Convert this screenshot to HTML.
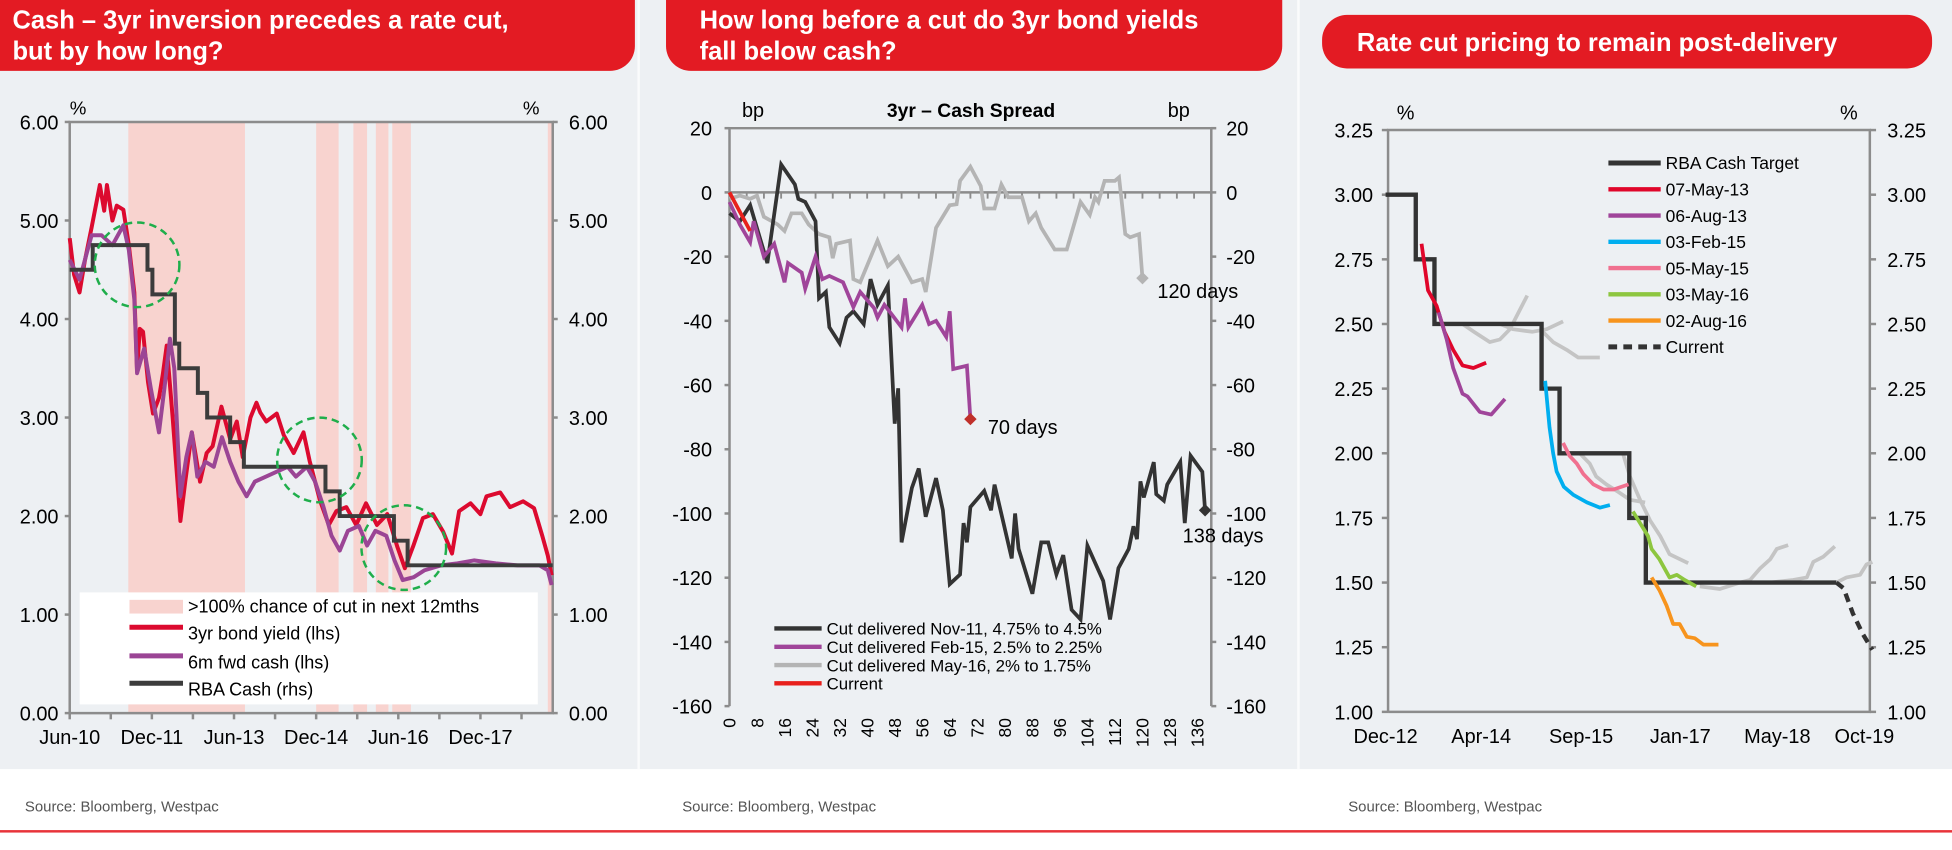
<!DOCTYPE html>
<html><head><meta charset="utf-8"><style>
html,body{margin:0;padding:0;background:#fff;}
svg{display:block;font-family:"Liberation Sans",Arial,sans-serif;}
</style></head><body>
<svg id="root" xmlns="http://www.w3.org/2000/svg" width="1952" height="850" viewBox="0 0 1568 683" preserveAspectRatio="none">
<rect x="0" y="0" width="1568" height="618" fill="#edf0f3"/>
<rect x="512" y="0" width="2" height="618" fill="#fafbfc"/>
<rect x="1042" y="0" width="2" height="618" fill="#fafbfc"/>
<rect x="0" y="667" width="1568" height="2" fill="#e8343a"/>
<g>
<rect x="-30" y="-30" width="540" height="87" rx="20" fill="#e31b23"/>
<text x="10" y="23" fill="#fff" font-size="20.5" font-weight="bold">Cash – 3yr inversion precedes a rate cut,</text>
<text x="10" y="48" fill="#fff" font-size="20.5" font-weight="bold">but by how long?</text>
</g>
<g>
<rect x="535" y="-30" width="495" height="87" rx="20" fill="#e31b23"/>
<text x="562" y="23" fill="#fff" font-size="20.5" font-weight="bold">How long before a cut do 3yr bond yields</text>
<text x="562" y="48" fill="#fff" font-size="20.5" font-weight="bold">fall below cash?</text>
</g>
<g>
<rect x="1062" y="12" width="490" height="43" rx="20" fill="#e31b23"/>
<text x="1090" y="41" fill="#fff" font-size="20.5" font-weight="bold">Rate cut pricing to remain post-delivery</text>
</g>
<text x="20" y="652" font-size="12" fill="#555">Source: Bloomberg, Westpac</text>
<text x="548" y="652" font-size="12" fill="#555">Source: Bloomberg, Westpac</text>
<text x="1083" y="652" font-size="12" fill="#555">Source: Bloomberg, Westpac</text>

<g id="c1"></g>
<g id="c2"></g>
<g id="c3"></g>
</svg>
<script>
// ---------- Chart 1 data ----------
const c1Bands = [[2011.49,2013.62],[2014.92,2015.33],[2015.6,2015.85],[2016.01,2016.24],[2016.31,2016.65],[2019.15,2019.24]];
const c1Cash = [[2010.42,4.5],[2010.84,4.75],[2011.84,4.5],[2011.93,4.25],[2012.34,3.75],[2012.42,3.5],[2012.76,3.25],[2012.93,3.0],[2013.35,2.75],[2013.6,2.5],[2015.09,2.25],[2015.35,2.0],[2016.34,1.75],[2016.59,1.5],[2019.24,1.5]];
const c1Bond = [[2010.42,4.82],[2010.5,4.45],[2010.6,4.27],[2010.7,4.6],[2010.82,4.93],[2010.97,5.36],[2011.05,5.1],[2011.1,5.36],[2011.2,5.0],[2011.28,5.15],[2011.4,5.11],[2011.5,4.75],[2011.6,4.27],[2011.65,3.47],[2011.7,3.9],[2011.76,3.87],[2011.85,3.36],[2011.94,3.04],[2012.05,3.2],[2012.12,3.44],[2012.19,3.73],[2012.3,3.0],[2012.44,1.95],[2012.53,2.35],[2012.65,2.85],[2012.8,2.35],[2012.92,2.64],[2013.03,2.71],[2013.19,3.11],[2013.35,2.78],[2013.47,2.96],[2013.58,2.6],[2013.72,3.0],[2013.83,3.15],[2013.9,3.05],[2014.01,2.96],[2014.2,3.04],[2014.33,2.82],[2014.51,2.64],[2014.69,2.85],[2014.8,2.56],[2014.99,2.16],[2015.15,1.91],[2015.29,2.05],[2015.47,2.09],[2015.65,1.91],[2015.83,2.13],[2016.03,1.91],[2016.22,2.02],[2016.4,1.69],[2016.54,1.47],[2016.69,1.69],[2016.87,1.98],[2017.05,2.02],[2017.24,1.84],[2017.4,1.62],[2017.53,2.05],[2017.74,2.13],[2017.92,2.02],[2018.03,2.2],[2018.28,2.24],[2018.46,2.09],[2018.7,2.15],[2018.9,2.08],[2019.05,1.8],[2019.15,1.6],[2019.22,1.4]];
const c1Fwd = [[2010.42,4.6],[2010.6,4.4],[2010.82,4.85],[2011.0,4.85],[2011.2,4.75],[2011.4,4.95],[2011.5,4.7],[2011.6,4.2],[2011.65,3.45],[2011.78,3.7],[2011.9,3.3],[2012.05,2.85],[2012.15,3.3],[2012.25,3.8],[2012.33,3.5],[2012.44,2.2],[2012.55,2.6],[2012.65,2.85],[2012.75,2.4],[2012.9,2.55],[2013.05,2.5],[2013.2,2.8],[2013.35,2.55],[2013.5,2.35],[2013.65,2.2],[2013.8,2.35],[2014.0,2.4],[2014.2,2.45],[2014.4,2.5],[2014.55,2.4],[2014.75,2.5],[2014.9,2.35],[2015.05,2.1],[2015.2,1.8],[2015.35,1.65],[2015.5,1.85],[2015.7,1.9],[2015.85,1.7],[2016.0,1.85],[2016.2,1.8],[2016.35,1.55],[2016.5,1.35],[2016.7,1.38],[2016.9,1.45],[2017.2,1.5],[2017.5,1.52],[2017.8,1.55],[2018.2,1.52],[2018.6,1.5],[2019.0,1.5],[2019.15,1.45],[2019.22,1.3]];
const c1Circles = [[2011.65,4.55],[2014.98,2.57],[2016.52,1.68]];
const c1YTicks = [0,1,2,3,4,5,6];
const c1XLabels = ["Jun-10","Dec-11","Jun-13","Dec-14","Jun-16","Dec-17"];
const c1XLabelPos = [2010.42,2011.92,2013.42,2014.92,2016.42,2017.92];

// ---------- Chart 2 data ----------
const c2Nov11 = [[0,-6.5],[3,-9],[6,-4],[11,-22],[15,8.7],[19,2.5],[20,-2],[22,-3],[25,-9],[26,-33],[28,-31],[29,-42],[32,-47],[34,-39],[36,-37],[39,-41],[41,-27],[43,-35],[46,-29],[48,-72],[49,-61],[50,-109],[53,-92],[55,-86],[57,-101],[60,-89],[62,-99],[64,-122],[67,-119],[68,-103],[69,-109],[70,-98],[74,-93],[76,-99],[77,-91],[82,-114],[83,-100],[84,-111],[88,-125],[90.6,-109],[92.6,-109],[95,-119],[97,-113],[99.4,-130],[102,-133],[104,-110],[108.6,-121],[110.6,-133],[113,-117],[116,-111],[117.4,-104],[118.4,-108],[119.4,-90],[120.4,-95],[123.3,-84],[124,-94],[126.2,-96],[127.2,-91],[131,-84],[132.3,-103],[134,-82],[137.4,-87],[138.2,-99]];
const c2Feb15 = [[0,-3],[3,-10],[6,-15.5],[7,-9],[10,-20],[13,-16],[16,-28],[17,-22],[21,-25],[22,-30],[25,-20],[27,-27],[29,-26],[33,-28],[36,-35.7],[38,-31],[42,-36],[43,-39],[45,-35],[50,-42],[51,-33],[52,-42],[56,-35],[58,-41],[60,-40],[63,-45],[64,-37],[65,-55],[69,-54],[70,-70.6]];
const c2May16 = [[0,-2],[3,-1],[6,-2],[8,-1],[10,-7.6],[14,-10],[16,-12],[18,-6.5],[21,-6.5],[23,-10],[26,-13],[29,-14],[30,-20.5],[31,-16],[35,-15],[36,-27],[38,-28],[43,-15],[46,-23],[49,-20],[53,-28],[56,-27],[57,-31],[60,-11],[64,-4],[66,-3.7],[67,3.6],[70,8],[73,2],[74,-5],[77,-5],[79,2.5],[81,-1.5],[85,-1.5],[87,-9],[89,-6.5],[90.6,-11],[94.5,-17.8],[98,-17.8],[102,-3],[104.7,-7],[106.2,-1.5],[107.2,-3],[109,3.6],[112,3.6],[113.2,4.7],[115,-13],[116.4,-14],[119,-13],[120,-26.7]];
const c2Current = [[0,0],[2,-4],[6,-12]];
const c2YTicks = [20,0,-20,-40,-60,-80,-100,-120,-140,-160];
const c2XTicks = [0,8,16,24,32,40,48,56,64,72,80,88,96,104,112,120,128,136];
const c2Ends = [[70,-70.6,"70 days"],[120,-26.7,"120 days"],[138.2,-99,"138 days"]];

// ---------- Chart 3 data ----------
const c3Cash = [[2012.92,3.0],[2013.34,2.75],[2013.6,2.5],[2015.09,2.25],[2015.34,2.0],[2016.31,1.75],[2016.54,1.5],[2019.19,1.5]];
const c3Current = [[2019.19,1.5],[2019.29,1.478],[2019.42,1.38],[2019.56,1.3],[2019.69,1.24]];
const c3May13 = [[2013.42,2.81],[2013.51,2.63],[2013.63,2.57],[2013.74,2.47],[2013.86,2.40],[2013.99,2.34],[2014.14,2.33],[2014.32,2.35]];
const c3Aug13 = [[2013.66,2.545],[2013.77,2.44],[2013.86,2.33],[2013.99,2.23],[2014.06,2.22],[2014.23,2.16],[2014.39,2.15],[2014.58,2.21]];
const c3Feb15 = [[2015.14,2.28],[2015.2,2.1],[2015.25,2.0],[2015.3,1.93],[2015.4,1.87],[2015.53,1.84],[2015.72,1.81],[2015.9,1.79],[2016.04,1.8]];
const c3May15 = [[2015.39,2.04],[2015.48,1.99],[2015.58,1.96],[2015.67,1.92],[2015.81,1.88],[2015.95,1.86],[2016.09,1.86],[2016.3,1.88]];
const c3May16 = [[2016.36,1.775],[2016.46,1.73],[2016.57,1.68],[2016.62,1.63],[2016.73,1.59],[2016.87,1.52],[2016.97,1.53],[2017.08,1.51],[2017.24,1.485]];
const c3Aug16 = [[2016.62,1.52],[2016.73,1.47],[2016.83,1.41],[2016.92,1.34],[2017.01,1.34],[2017.11,1.29],[2017.22,1.285],[2017.34,1.26],[2017.55,1.26]];
const c3GreyA = [[2013.99,2.5],[2014.15,2.47],[2014.37,2.43],[2014.51,2.44],[2014.65,2.48],[2014.78,2.55],[2014.89,2.61]];
const c3GreyB = [[2014.51,2.5],[2014.69,2.48],[2014.96,2.47],[2015.16,2.48],[2015.39,2.51]];
const c3GreyC = [[2015.07,2.48],[2015.25,2.43],[2015.44,2.4],[2015.6,2.37],[2015.9,2.37]];
const c3GreyD = [[2015.62,2.0],[2015.76,1.96],[2015.85,1.91],[2015.99,1.88],[2016.16,1.85],[2016.32,1.82],[2016.53,1.81]];
const c3GreyE = [[2016.22,2.0],[2016.32,1.91],[2016.46,1.82],[2016.6,1.74],[2016.74,1.68],[2016.87,1.61],[2017.13,1.575]];
const c3GreyF = [[2017.29,1.485],[2017.57,1.475],[2017.85,1.5],[2017.99,1.51],[2018.13,1.555],[2018.27,1.59],[2018.36,1.63],[2018.52,1.645]];
const c3GreyG = [[2018.27,1.5],[2018.59,1.51],[2018.78,1.52],[2018.87,1.58],[2019.01,1.6],[2019.17,1.64]];
const c3GreyH = [[2019.19,1.5],[2019.33,1.52],[2019.52,1.53],[2019.61,1.57],[2019.69,1.58]];
const c3YTicks = [1.0,1.25,1.5,1.75,2.0,2.25,2.5,2.75,3.0,3.25];
const c3XLabels = ["Dec-12","Apr-14","Sep-15","Jan-17","May-18","Oct-19"];
const c3XLabelPos = [2012.92,2014.25,2015.64,2017.02,2018.37,2019.58];
const c3LegendLabels = ["RBA Cash Target","07-May-13","06-Aug-13","03-Feb-15","05-May-15","03-May-16","02-Aug-16","Current"];

const NS="http://www.w3.org/2000/svg";
function mk(tag, attrs, parent){const e=document.createElementNS(NS,tag);for(const k in attrs)e.setAttribute(k,attrs[k]);parent.appendChild(e);return e;}
function txt(s, attrs, parent){const e=mk('text',attrs,parent);e.textContent=s;return e;}
function pathOf(pts,x,y){return pts.map((p,i)=>(i?'L':'M')+x(p[0]).toFixed(1)+','+y(p[1]).toFixed(1)).join('');}
function stepOf(pts,x,y){let d='M'+x(pts[0][0])+','+y(pts[0][1]);for(let i=1;i<pts.length;i++){d+='H'+x(pts[i][0])+'V'+y(pts[i][1]);}return d;}

// ===== Chart 1 =====
(function(){
const g=document.getElementById('c1');
const L=56,R=444,T=98,B=573;
const x=t=>L+(t-2010.42)*(R-L)/(2019.24-2010.42);
const y=v=>B-v*(B-T)/6;
c1Bands.forEach(b=>{const r=mk('rect',{x:x(b[0]),y:T,width:x(b[1])-x(b[0]),height:B-T,fill:'#f8d3cf'},g);

});
const fr=mk('path',{d:`M${L},${B}V${T}H${R}V${B}H${L}`,fill:'none',stroke:'#8c8c8c','stroke-width':2},g);


c1YTicks.forEach(v=>{
const a=txt(v.toFixed(2),{x:47,y:y(v)+6,'font-size':16,'text-anchor':'end',fill:'#000'},g);


const b=txt(v.toFixed(2),{x:457,y:y(v)+6,'font-size':16,fill:'#000'},g);


mk('line',{x1:L-4,x2:L,y1:y(v),y2:y(v),stroke:'#8c8c8c','stroke-width':2},g);
mk('line',{x1:R,x2:R+4,y1:y(v),y2:y(v),stroke:'#8c8c8c','stroke-width':2},g);
});
for(let t=2010.42;t<2019.3;t+=0.75){mk('line',{x1:x(t),x2:x(t),y1:B,y2:B+5,stroke:'#8c8c8c','stroke-width':2},g);}
c1XLabels.forEach((s,i)=>{const a=txt(s,{x:x(c1XLabelPos[i]),y:598,'font-size':16,'text-anchor':'middle'},g);

});
const p1=txt('%',{x:56,y:92,'font-size':15},g);


const p2=txt('%',{x:420,y:92,'font-size':15},g);


const s1=mk('path',{d:pathOf(c1Bond,x,y),fill:'none',stroke:'#dc0a2f','stroke-width':3.2,'stroke-linejoin':'round'},g);


const s2=mk('path',{d:pathOf(c1Fwd,x,y),fill:'none',stroke:'#9b4595','stroke-width':3.2,'stroke-linejoin':'round'},g);


const s3=mk('path',{d:stepOf(c1Cash,x,y),fill:'none',stroke:'#3c3c3c','stroke-width':3.2},g);


c1Circles.forEach(c=>{const e=mk('circle',{cx:x(c[0]),cy:y(c[1]),r:34,fill:'none',stroke:'#1fae4b','stroke-width':2,'stroke-dasharray':'6 4'},g);

});
const lg=mk('g',{},g);


mk('rect',{x:64,y:476,width:368,height:90,fill:'#fff'},lg);
mk('rect',{x:104,y:482,width:43,height:11,fill:'#f8d3cf'},lg);
[['#dc0a2f',509],['#9b4595',532],['#3c3c3c',554]].forEach(a=>mk('line',{x1:104,x2:147,y1:a[1]-5,y2:a[1]-5,stroke:a[0],'stroke-width':4},lg));
const ll=['>100% chance of cut in next 12mths','3yr bond yield  (lhs)','6m fwd cash (lhs)','RBA Cash (rhs)'];
[492,514,537,559].forEach((yy,i)=>{const t=txt(ll[i],{x:151,y:yy,'font-size':14.5,'xml:space':'preserve'},lg);

});
})();

// ===== Chart 2 =====
(function(){
const g=document.getElementById('c2');
const L=586,R=973,T=103,B=567.4;
const x=d=>L+d*(R-L)/140;
const y=v=>154.6-v*2.58;
const fr=mk('path',{d:`M${L},${B}V${T}H${R}V${B}`,fill:'none',stroke:'#8c8c8c','stroke-width':2},g);


const z=mk('line',{x1:L,x2:R,y1:y(0),y2:y(0),stroke:'#8c8c8c','stroke-width':2},g);


for(let d=0;d<=140;d+=5){mk('line',{x1:x(d),x2:x(d),y1:y(0),y2:y(0)+5,stroke:'#8c8c8c','stroke-width':1.5},g);}
c2YTicks.forEach(v=>{
const a=txt(String(v),{x:572,y:y(v)+6,'font-size':16,'text-anchor':'end'},g);


const b=txt(String(v),{x:985,y:y(v)+6,'font-size':16},g);


mk('line',{x1:L-4,x2:L,y1:y(v),y2:y(v),stroke:'#8c8c8c','stroke-width':2},g);
mk('line',{x1:R,x2:R+4,y1:y(v),y2:y(v),stroke:'#8c8c8c','stroke-width':2},g);
});
c2XTicks.forEach(d=>{const a=txt(String(d),{x:0,y:0,'font-size':14,'text-anchor':'end',transform:`translate(${x(d)+5},577) rotate(-90)`},g);

});
const u1=txt('bp',{x:596,y:94,'font-size':16},g);


const u2=txt('bp',{x:938,y:94,'font-size':16},g);


const ct=txt('3yr – Cash Spread',{x:780,y:94,'font-size':15.5,'font-weight':'bold','text-anchor':'middle'},g);


const sA=mk('path',{d:pathOf(c2May16,x,y),fill:'none',stroke:'#b4b4b4','stroke-width':3},g);


const sB=mk('path',{d:pathOf(c2Nov11,x,y),fill:'none',stroke:'#333','stroke-width':3},g);


const sC=mk('path',{d:pathOf(c2Feb15,x,y),fill:'none',stroke:'#a0459a','stroke-width':3},g);


const sD=mk('path',{d:pathOf(c2Current,x,y),fill:'none',stroke:'#e8201c','stroke-width':3},g);


const dc=['#c0302a','#b4b4b4','#333'];
const lo=[[8,6],[6,10],[-24,20]];
c2Ends.forEach((e,i)=>{const cx=x(e[0]),cy=y(e[1]);
const dm=mk('path',{d:`M${cx},${cy-5}L${cx+5},${cy}L${cx},${cy+5}L${cx-5},${cy}Z`,fill:dc[i]},g);


const t=txt(e[2],{x:cx+lo[i][0]+6,y:cy+lo[i][1]+6,'font-size':16},g);

});
const lg=mk('g',{},g);


const lc=['#333','#a0459a','#b4b4b4','#e8201c'];
const lt=['Cut delivered Nov-11, 4.75% to 4.5%','Cut delivered Feb-15, 2.5% to 2.25%','Cut delivered May-16, 2% to 1.75%','Current'];
lt.forEach((s,i)=>{const yy=505+i*14.7;
mk('line',{x1:622,x2:660,y1:yy,y2:yy,stroke:lc[i],'stroke-width':3.5},lg);
const t=txt(s,{x:664,y:yy+5,'font-size':13.5},lg);

});
})();

// ===== Chart 3 =====
(function(){
const g=document.getElementById('c3');
const L=1115,R=1502,T=104.5,B=572;
const x=t=>1113+57.75*(t-2012.92);
const y=v=>B-(v-1)*(B-T)/2.25;
const fr=mk('path',{d:`M${L},${B}V${T}H${R}V${B}H${L}`,fill:'none',stroke:'#8c8c8c','stroke-width':2},g);


c3YTicks.forEach(v=>{
const a=txt(v.toFixed(2),{x:1103,y:y(v)+6,'font-size':16,'text-anchor':'end'},g);


const b=txt(v.toFixed(2),{x:1516,y:y(v)+6,'font-size':16},g);


mk('line',{x1:L-5,x2:L,y1:y(v),y2:y(v),stroke:'#8c8c8c','stroke-width':2},g);
mk('line',{x1:R,x2:R+5,y1:y(v),y2:y(v),stroke:'#8c8c8c','stroke-width':2},g);
});
c3XLabels.forEach((s,i)=>{const a=txt(s,{x:x(c3XLabelPos[i]),y:597,'font-size':16,'text-anchor':'middle'},g);

});
const u1=txt('%',{x:1122,y:96,'font-size':16},g);


const u2=txt('%',{x:1478,y:96,'font-size':16},g);


[c3GreyA,c3GreyB,c3GreyC,c3GreyD,c3GreyE,c3GreyF,c3GreyG,c3GreyH].forEach(s=>{
const p=mk('path',{d:pathOf(s,x,y),fill:'none',stroke:'#c4c4c4','stroke-width':3,'stroke-linejoin':'round'},g);

});
const cs=mk('path',{d:stepOf(c3Cash,x,y),fill:'none',stroke:'#333','stroke-width':3.5},g);


const cur=mk('path',{d:pathOf(c3Current,x,y),fill:'none',stroke:'#333','stroke-width':3.5,'stroke-dasharray':'7 5'},g);


const ser=[[c3May13,'#e0062a','series-07-may-13'],[c3Aug13,'#a0459a','series-06-aug-13'],[c3Feb15,'#00aeef','series-03-feb-15'],[c3May15,'#f0708f','series-05-may-15'],[c3May16,'#8dc63f','series-03-may-16'],[c3Aug16,'#f7941d','series-02-aug-16']];
ser.forEach(s=>{const p=mk('path',{d:pathOf(s[0],x,y),fill:'none',stroke:s[1],'stroke-width':3,'stroke-linejoin':'round'},g);

});
const lg=mk('g',{},g);


const lc=['#333','#e0062a','#a0459a','#00aeef','#f0708f','#8dc63f','#f7941d','#333'];
c3LegendLabels.forEach((s,i)=>{const yy=131+i*21.1;
const ln=mk('line',{x1:1292,x2:1334,y1:yy,y2:yy,stroke:lc[i],'stroke-width':i===0||i===7?4:3.5},lg);
if(i===7)ln.setAttribute('stroke-dasharray','7 5');
const t=txt(s,{x:1338,y:yy+5,'font-size':14},lg);

});
})();
</script>
</body></html>
